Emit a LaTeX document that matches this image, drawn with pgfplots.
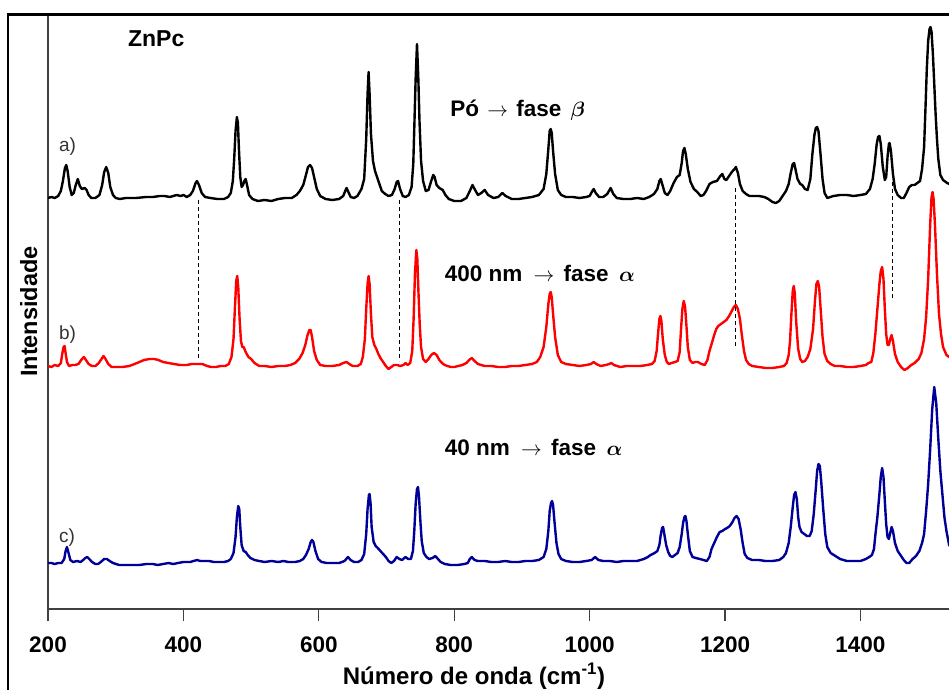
\documentclass[border=0pt]{standalone}
\usepackage{pgfplots}
\pgfplotsset{compat=1.18}
\usepackage{fontspec}
\setmainfont{Liberation Sans}
\definecolor{specred}{RGB}{255,0,0}
\definecolor{specblue}{RGB}{0,0,153}
\begin{document}
\begin{tikzpicture}[x=1pt,y=1pt]
\path[use as bounding box] (0,0) rectangle (949,689);
\clip (0,0) rectangle (949,689);
\begin{axis}[
  at={(48pt,80pt)}, anchor=south west,
  scale only axis, width=914pt, height=595pt,
  xmin=200, xmax=1550, ymin=0, ymax=595,
  axis lines*=left,
  axis line style={line width=1.2pt, black!75},
  xtick={200,400,600,800,1000,1200,1400},
  ytick=\empty,
  tick align=outside,
  major tick length=12pt,
  every tick/.style={line width=1.2pt, black!75},
  /pgf/number format/assume math mode=true,
  /pgf/number format/1000 sep={},
  xticklabel style={font=\fontsize{22.5}{27}\selectfont\bfseries, anchor=base, yshift=-31pt},
  xlabel={Número de onda (cm\textsuperscript{-1})},
  xlabel style={at={(axis description cs:0.466,0)}, anchor=base, yshift=-75pt,
                font=\fontsize{24}{28}\selectfont\bfseries},
  ylabel={Intensidade},
  ylabel style={at={(axis description cs:-0.012,0.5)}, anchor=base,
                font=\fontsize{23.5}{27}\selectfont\bfseries},
  every axis plot/.append style={line width=2.4pt, line join=round},
]
% a) powder, beta phase
\addplot[black] coordinates {
(200,411) (205,412) (210,411) (215,413) (219,418) (222,428) (225,441) (227,444) (229,438) (232,422) (235,414) (238,416) (241,424) (244,430) (247,423) (250,420) (254,421) (257,419) (260,414) (264,411) (270,411) (276,414) (280,424) (283,437) (286,442) (289,436) (292,422) (296,414) (300,411) (306,410) (315,411) (330,411) (345,412) (355,412) (365,413) (372,413) (380,412) (390,414) (396,413) (400,414) (405,412) (410,414) (414,418) (418,426) (420,428) (423,424) (427,416) (432,412) (440,411) (450,410) (460,410) (466,412) (470,416) (473,428) (475,450) (477,478) (479,492) (480.5,486) (482,460) (484,432) (486,422) (488,424) (490,428) (492,430) (494,424) (497,414) (502,410) (510,408) (520,409) (530,408) (540,410) (550,411) (560,411) (567,414) (572,418) (577,424) (581,434) (584,442) (587,444) (590,441) (593,432) (597,420) (602,413) (610,410) (620,409) (630,410) (636,413) (639,418) (641,421) (643,418) (647,412) (652,411) (657,413) (663,420) (667,430) (670,470) (672,515) (673.5,537) (675,515) (677,475) (680,448) (683,438) (686,432) (689,426) (693,418) (698,415) (703,413) (708,414) (712,420) (715,427) (717,428) (720,420) (724,413) (728,412) (733,414) (737,422) (739.5,445) (741.3,488) (743,530) (745,565) (747,530) (748.7,488) (751,448) (754,428) (758,418) (762,419) (766,428) (769,434) (771,432) (774,424) (778,421) (783,419) (787,414) (792,410) (800,408) (810,408) (818,411) (823,418) (827,424) (830,420) (835,414) (840,416) (845,419) (850,414) (858,411) (865,412) (871,416) (876,413) (885,410) (895,410) (905,411) (915,412) (925,414) (932,420) (936,435) (939,460) (941,478) (942.5,480) (944,476) (946,458) (949,435) (953,419) (958,414) (965,412) (975,412) (985,411) (995,412) (1000,413) (1004,418) (1006,420) (1009,416) (1014,412) (1020,412) (1026,415) (1031,421) (1035,415) (1040,411) (1050,410) (1060,410) (1070,411) (1080,410) (1088,412) (1095,415) (1100,420) (1103,428) (1105,430) (1108,423) (1111,416) (1115,414) (1119,418) (1124,426) (1129,432) (1133,434) (1136,446) (1138,458) (1140,461) (1142,455) (1145,440) (1149,427) (1154,420) (1159,417) (1164,413) (1168,414) (1172,418) (1177,425) (1182,427) (1188,428) (1193,433) (1196,435) (1199,430) (1202,429) (1206,433) (1210,437) (1214,440) (1216,442) (1219,436) (1222,425) (1226,418) (1231,415) (1236,413) (1242,413) (1250,413) (1258,412) (1264,410) (1270,407) (1275,406) (1280,408) (1286,414) (1290,418) (1294,425) (1297,436) (1300,445) (1302,446) (1304,440) (1307,430) (1311,425) (1314,424) (1318,420) (1322,419) (1326,430) (1329,455) (1332,474) (1334,481) (1336,482) (1338,478) (1341,455) (1344,430) (1347,416) (1351,411) (1360,413) (1370,414) (1380,414) (1390,413) (1400,414) (1408,415) (1414,420) (1418,430) (1421,445) (1424,465) (1426,472) (1428,473) (1430,465) (1433,442) (1436,429) (1438,432) (1440,452) (1442,465) (1443,466) (1445,458) (1448,435) (1451,420) (1455,414) (1460,411) (1464,411) (1468,416) (1472,422) (1476,424) (1480,424) (1484,426) (1488,428) (1491,440) (1494,462) (1496,500) (1498,540) (1500,568) (1502,580) (1503.5,582) (1505,577) (1507,555) (1509,525) (1511,495) (1513,470) (1515,450) (1518,434) (1522,429) (1528,426) (1535,424) (1550,422)
};
% b) 400 nm film, alpha phase
\addplot[specred] coordinates {
(200,243) (205,242) (210,244) (215,243) (219,246) (221,255) (223,262) (224.5,263) (226,256) (228,247) (231,243) (236,244) (240,244) (245,245) (249,249) (253,252) (256,249) (260,245) (265,243) (270,243) (275,246) (279,250) (282,253) (285,250) (289,245) (294,242) (300,242) (310,242) (320,243) (328,245) (335,247) (342,249) (350,250) (357,250) (363,249) (370,247) (378,246) (386,245) (395,244) (405,244) (412,245) (420,245) (428,245) (435,243) (441,242) (448,242) (455,243) (462,243) (467,245) (471,252) (474,270) (476,300) (478,328) (479.5,333) (481,322) (483,290) (485,268) (487,262) (489,262) (492,257) (496,252) (500,250) (505,246) (512,243) (520,243) (530,242) (540,243) (550,243) (558,244) (565,246) (571,250) (576,256) (580,264) (583,273) (586,279) (588,279) (590,272) (593,258) (597,249) (602,244) (610,243) (620,243) (630,244) (636,246) (641,247) (645,245) (650,243) (657,243) (662,245) (665,252) (668,270) (670,300) (672,325) (673.5,333) (675,325) (677,295) (679,272) (682,264) (685,260) (688,255) (691,251) (695,247) (699,243) (703,240) (707,242) (711,244) (716,244) (720,243) (725,244) (728,246) (731,244) (735,246) (738,258) (740,290) (742,335) (744,359) (745.5,350) (747,320) (749,285) (751,262) (754,250) (758,247) (762,250) (766,254) (770,256) (774,254) (778,249) (782,246) (786,244) (790,243) (795,242) (800,242) (806,243) (812,244) (818,246) (822,249) (826,251) (830,248) (835,245) (840,244) (845,243) (855,243) (865,242) (875,242) (885,243) (895,243) (905,244) (915,245) (922,247) (927,252) (932,262) (936,282) (939,305) (941,315) (942.5,317) (944,312) (946,295) (949,272) (953,254) (958,247) (965,245) (975,244) (985,243) (995,244) (1002,245) (1006,247) (1010,245) (1016,243) (1024,244) (1029,245) (1032,246) (1036,244) (1045,242) (1055,243) (1065,243) (1075,243) (1085,244) (1092,245) (1096,248) (1099,258) (1101,275) (1103,290) (1104.5,293) (1106,288) (1108,270) (1111,254) (1114,247) (1117,245) (1121,246) (1126,247) (1130,248) (1133,257) (1135,280) (1137,300) (1139,308) (1141,302) (1143,283) (1145,262) (1148,249) (1152,246) (1156,247) (1160,247) (1165,245) (1170,244) (1174,249) (1177,258) (1181,267) (1184,274) (1187,280) (1190,283) (1194,285) (1198,287) (1202,289) (1206,293) (1210,298) (1213,302) (1216,304) (1219,300) (1222,290) (1225,273) (1228,258) (1231,249) (1235,245) (1240,243) (1250,242) (1260,241) (1270,241) (1280,242) (1287,243) (1291,246) (1294,254) (1296,268) (1298,295) (1300,318) (1301.5,323) (1303,316) (1305,288) (1308,260) (1311,250) (1314,247) (1318,248) (1322,252) (1326,260) (1330,280) (1333,310) (1335,325) (1337,328) (1339,322) (1341,302) (1344,272) (1347,255) (1351,248) (1356,245) (1362,243) (1370,243) (1380,242) (1390,242) (1400,243) (1408,244) (1412,246) (1416,247) (1419,256) (1422,275) (1425,300) (1428,325) (1430,338) (1432,342) (1434,330) (1436,300) (1438,275) (1440,264) (1442,264) (1444,270) (1446,274) (1448,268) (1451,255) (1455,247) (1460,242) (1465,239) (1470,241) (1475,244) (1480,246) (1486,250) (1490,256) (1494,270) (1497,292) (1500,330) (1503,385) (1505,412) (1506.5,417) (1508,410) (1510,385) (1513,335) (1516,295) (1519,275) (1522,262) (1527,254) (1535,250) (1550,247)
};
% c) 40 nm film, alpha phase
\addplot[specblue] coordinates {
(200,46) (205,46) (210,45) (215,46) (220,46) (224,50) (226,58) (228,62) (230,57) (233,49) (237,47) (243,48) (248,47) (252,49) (255,51) (258,52) (261,50) (265,47) (270,45) (274,45) (278,47) (283,50) (287,50) (291,48) (296,46) (305,44) (315,44) (325,44) (335,44) (345,45) (355,45) (362,44) (370,45) (378,46) (385,45) (392,46) (400,47) (410,47) (420,49) (425,48) (430,48) (438,48) (445,47) (452,47) (460,47) (466,48) (470,50) (474,56) (477,72) (479,92) (481,103) (482.5,100) (484,82) (486,64) (489,58) (492,57) (495,54) (499,51) (505,49) (512,48) (520,47) (530,48) (540,47) (548,48) (555,47) (565,47) (572,48) (577,50) (581,54) (585,60) (588,67) (590,69) (592,67) (595,58) (599,50) (604,47) (612,46) (620,46) (630,46) (638,48) (643,52) (647,49) (652,47) (658,47) (663,49) (667,55) (670,75) (672,100) (674,114) (675,115) (676.5,105) (678,82) (681,67) (684,63) (687,61) (691,58) (695,55) (699,52) (703,48) (707,46) (711,48) (715,52) (719,50) (723,49) (728,52) (732,50) (736,50) (739,58) (741,78) (743,105) (745,120) (746.5,122) (748,112) (750,88) (752,68) (755,56) (759,52) (763,50) (768,51) (772,53) (776,50) (780,47) (786,45) (795,44) (805,44) (815,45) (820,46) (823,50) (826,52) (830,49) (835,48) (845,48) (855,47) (865,47) (875,48) (885,47) (895,47) (905,48) (915,48) (925,49) (932,52) (936,60) (939,78) (941,98) (943,106) (944.5,108) (946,104) (948,88) (951,66) (954,55) (958,50) (965,48) (975,47) (985,47) (995,48) (1003,49) (1008,52) (1013,49) (1020,48) (1030,48) (1040,47) (1050,48) (1060,48) (1070,48) (1080,50) (1086,52) (1090,54) (1096,56) (1100,58) (1103,64) (1105,74) (1107,81) (1108.5,82) (1110,76) (1113,64) (1116,57) (1119,53) (1122,52) (1126,54) (1130,56) (1133,62) (1136,75) (1138,86) (1140,92) (1141.5,93) (1143,88) (1145,75) (1148,58) (1152,52) (1157,51) (1163,50) (1168,49) (1173,48) (1177,52) (1180,60) (1184,66) (1188,72) (1192,77) (1196,78) (1200,80) (1203,81) (1207,83) (1211,87) (1214,91) (1217,93) (1220,90) (1223,80) (1226,66) (1229,55) (1233,51) (1240,49) (1250,49) (1260,48) (1270,48) (1280,49) (1286,52) (1290,56) (1294,66) (1297,82) (1300,102) (1302,114) (1304,117) (1306,110) (1308,92) (1310,82) (1313,77) (1317,75) (1321,73) (1325,73) (1328,78) (1331,95) (1334,120) (1336,138) (1338,145) (1340,143) (1342,128) (1345,100) (1348,75) (1351,62) (1356,56) (1363,53) (1370,50) (1380,48) (1390,48) (1400,48) (1408,50) (1413,52) (1417,54) (1420,60) (1422,74) (1425,92) (1428,115) (1430,132) (1432,141) (1434,132) (1436,108) (1438,85) (1440,72) (1442,70) (1444,76) (1446,82) (1448,78) (1451,66) (1455,58) (1459,54) (1464,49) (1468,46) (1472,46) (1477,50) (1482,53) (1487,58) (1491,66) (1494,75) (1497,98) (1500,125) (1503,160) (1506,200) (1509,222) (1512,205) (1515,170) (1518,138) (1521,115) (1524,92) (1527,78) (1531,64) (1540,56) (1550,53)
};
% guide lines between the spectra
\draw[black, line width=1pt, dash pattern=on 4pt off 3pt] (axis cs:423,409) -- (axis cs:423,251);
\draw[black, line width=1pt, dash pattern=on 4pt off 3pt] (axis cs:718.5,409) -- (axis cs:718.5,248);
\draw[black, line width=1pt, dash pattern=on 4pt off 3pt] (axis cs:1216,421) -- (axis cs:1216,263);
\draw[black, line width=1pt, dash pattern=on 4pt off 3pt] (axis cs:1448,427) -- (axis cs:1448,311);
% annotations
\node[anchor=base west, inner sep=0pt, font=\fontsize{23}{27}\selectfont\bfseries] at (axis cs:318,562) {ZnPc};
\node[anchor=base west, inner sep=0pt, text=black!80, font=\fontsize{19}{23}\selectfont] at (axis cs:216,457) {a)};
\node[anchor=base west, inner sep=0pt, text=black!80, font=\fontsize{19}{23}\selectfont] at (axis cs:216,270) {b)};
\node[anchor=base west, inner sep=0pt, text=black!80, font=\fontsize{19}{23}\selectfont] at (axis cs:216,67) {c)};
\node[anchor=base west, inner sep=0pt, font=\fontsize{22.5}{27}\selectfont\bfseries] at (axis cs:794,492)
  {Pó\hspace{2pt} $\rightarrow$\hspace{2pt} fase\hspace{3pt} {\boldmath$\beta$}};
\node[anchor=base west, inner sep=0pt, font=\fontsize{22.5}{27}\selectfont\bfseries] at (axis cs:786,328)
  {400 nm\hspace{5pt} $\rightarrow$\hspace{3pt} fase\hspace{4pt} {\boldmath$\alpha$}};
\node[anchor=base west, inner sep=0pt, font=\fontsize{22.5}{27}\selectfont\bfseries] at (axis cs:786,154)
  {40 nm\hspace{5pt} $\rightarrow$\hspace{3pt} fase\hspace{4pt} {\boldmath$\alpha$}};
\end{axis}
% chart frame
\draw[line width=2.5pt, black] (8,-20) -- (8,674.5) -- (980,674.5);
\end{tikzpicture}
\end{document}
